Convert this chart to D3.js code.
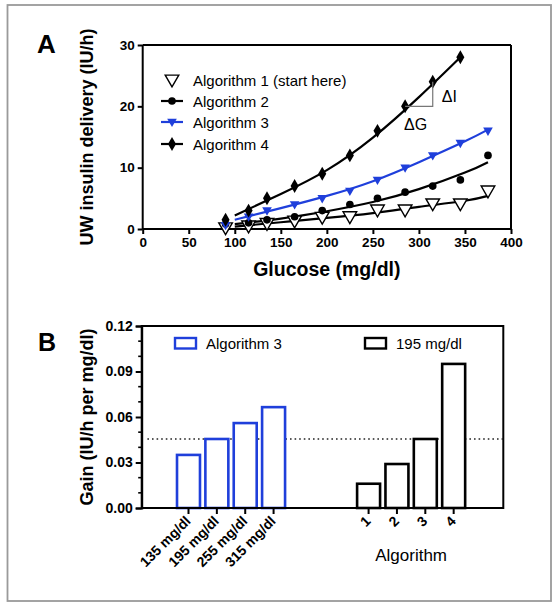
<!DOCTYPE html>
<html><head><meta charset="utf-8">
<script src="https://cdn.jsdelivr.net/npm/d3@7"></script>
<style>html,body{margin:0;padding:0;background:#fff;} svg{display:block;font-family:"Liberation Sans",Arial,sans-serif;}</style>
</head><body>
<svg id="c" width="557" height="607"></svg>
<script>
// ---------- Data: panel A ----------
const glucose = [90,115,135,165,195,225,255,285,315,345,375];
const alg1 = [0.2,0.5,0.9,1.3,1.9,2.0,3.1,3.1,4.1,4.1,6.2];
const alg2 = [0.8,1,1.5,2,3,4,5,6,7,8,12];
const alg3 = [0.6,2,3,4,5,6.2,8,10,12,14,16];
const alg4 = [1.5,3,5,7,9,12,16,20,24,28];
const fitX = [100,150,200,250,300,350,375];
const fit1 = [0.4,1.1,1.8,2.6,3.6,4.6,5.4];
const fit2 = [0.8,1.7,2.9,4.4,6.5,9.2,10.9];
const fit3 = [1.5,3.4,5.4,7.8,10.9,14.3,16.2];
const fit4X = [100,150,200,250,300,345];
const fit4 = [2.2,5.7,9.6,14.9,21.5,28.0];
const legendA = ["Algorithm 1 (start here)","Algorithm 2","Algorithm 3","Algorithm 4"];
const xTicksA = [0,50,100,150,200,250,300,350,400];
const yTicksA = [0,10,20,30];
// ---------- Data: panel B ----------
const glucoseCats = ["135 mg/dl","195 mg/dl","255 mg/dl","315 mg/dl"];
const gainAlg3 = [0.035,0.0455,0.056,0.0665];
const algCats = ["1","2","3","4"];
const gain195 = [0.016,0.029,0.0455,0.095];
const refGain = 0.0455;
const yTicksB = [0,0.03,0.06,0.09,0.12];

const BLUE = "#1f3fdb";
const svg = d3.select("#c");
svg.append("rect").attr("x",7.5).attr("y",5).attr("width",543.5).attr("height",596)
  .attr("fill","#fff").attr("stroke","#9a9a9a").attr("stroke-width",1.8);

// ================= Panel A =================
const xA = d3.scaleLinear().domain([0,400]).range([142.7,511]);
const yA = d3.scaleLinear().domain([0,30]).range([229,45]);
const gA = svg.append("g");
gA.append("text").attr("x",37).attr("y",53).attr("font-size",26).attr("font-weight","bold").text("A");

gA.append("line").attr("x1",xA(0)).attr("x2",xA(400)).attr("y1",yA(30)).attr("y2",yA(30)).attr("stroke","#000").attr("stroke-width",2);
gA.append("line").attr("x1",xA(400)).attr("x2",xA(400)).attr("y1",yA(30)).attr("y2",yA(0)).attr("stroke","#000").attr("stroke-width",2);

const axXA = gA.append("g").attr("transform",`translate(0,${yA(0)})`)
  .call(d3.axisBottom(xA).tickValues(xTicksA).tickSize(5).tickPadding(3));
const axYA = gA.append("g").attr("transform",`translate(${xA(0)},0)`)
  .call(d3.axisLeft(yA).tickValues(yTicksA).tickSize(5).tickPadding(3));
[axXA,axYA].forEach(a=>{
  a.selectAll("path").attr("stroke","#000").attr("stroke-width",2);
  a.selectAll("line").attr("stroke","#000").attr("stroke-width",2);
  a.selectAll("text").attr("font-size",13.5).attr("font-weight","bold").attr("fill","#000").attr("font-family","Liberation Sans, Arial, sans-serif");
});
axXA.selectAll("path").attr("d",`M${xA(0)},0H${xA(400)}`);
axYA.selectAll("path").attr("d",`M0,${yA(0)}V${yA(30)}`);

gA.append("text").attr("x",(xA(0)+xA(400))/2).attr("y",276).attr("text-anchor","middle")
  .attr("font-size",19.5).attr("font-weight","bold").text("Glucose (mg/dl)");
gA.append("text").attr("transform",`translate(93,${(yA(0)+yA(30))/2}) rotate(-90)`).attr("text-anchor","middle")
  .attr("font-size",18).attr("font-weight","bold").text("UW insulin delivery (IU/h)");

const line = d3.line().x(d=>xA(d[0])).y(d=>yA(d[1])).curve(d3.curveNatural);
const fits = [
  {x:fitX,y:fit1,c:"#000"},{x:fitX,y:fit2,c:"#000"},{x:fitX,y:fit3,c:BLUE},{x:fit4X,y:fit4,c:"#000"}
];
fits.forEach(f=>{
  gA.append("path").attr("d",line(f.x.map((v,i)=>[v,f.y[i]]))).attr("fill","none").attr("stroke",f.c).attr("stroke-width",2.2);
});

const sym = {
  a1: d3.symbol().type(d3.symbolTriangle).size(80),
  a2: d3.symbol().type(d3.symbolCircle).size(46),
  a3: d3.symbol().type(d3.symbolTriangle).size(40),
  a4: d3.symbol().type(d3.symbolDiamond).size(56)
};
function drawMarker(g,key,x,y){
  const p = g.append("path").attr("d",sym[key]());
  if(key==="a1"){p.attr("transform",`translate(${x},${y-1}) rotate(180)`).attr("fill","#fff").attr("stroke","#000").attr("stroke-width",1.4);}
  else if(key==="a3"){p.attr("transform",`translate(${x},${y-0.5}) rotate(180)`).attr("fill",BLUE);}
  else {p.attr("transform",`translate(${x},${y})`).attr("fill","#000");}
}
const series = [{k:"a1",v:alg1},{k:"a2",v:alg2},{k:"a3",v:alg3},{k:"a4",v:alg4}];
series.forEach(s=>{ s.v.forEach((v,i)=>drawMarker(gA,s.k,xA(glucose[i]),yA(v))); });

gA.append("path").attr("d",`M${xA(glucose[7])},${yA(alg4[7])}H${xA(glucose[8])}V${yA(alg4[8])}`)
  .attr("fill","none").attr("stroke","#777").attr("stroke-width",1.2);
gA.append("text").attr("x",xA(glucose[8])+9).attr("y",102).attr("font-size",16).text("ΔI");
gA.append("text").attr("x",xA(glucose[7])-1).attr("y",130).attr("font-size",16).text("ΔG");

const legY = [80,101,122,144];
legendA.forEach((t,i)=>{
  const k = ["a1","a2","a3","a4"][i];
  if(i>0) gA.append("line").attr("x1",161).attr("x2",183).attr("y1",legY[i]).attr("y2",legY[i])
    .attr("stroke",i===2?BLUE:"#000").attr("stroke-width",2.2);
  drawMarker(gA,k,172,legY[i]);
  gA.append("text").attr("x",193).attr("y",legY[i]+5.5).attr("font-size",15).text(t);
});

// ================= Panel B =================
const yB = d3.scaleLinear().domain([0,0.12]).range([508,326]);
const xB = d3.scaleLinear().domain([0,12.75]).range([141.7,503.3]);
const group1Start = 1.65, group2Start = 8.0, barW = 0.81;
const gB = svg.append("g");
gB.append("text").attr("x",38).attr("y",351).attr("font-size",25).attr("font-weight","bold").text("B");

gB.append("rect").attr("x",xB(0)).attr("y",yB(0.12)).attr("width",xB(12.75)-xB(0)).attr("height",yB(0)-yB(0.12))
  .attr("fill","none").attr("stroke","#000").attr("stroke-width",2);

const minorB = d3.range(0,13).map(i=>i*0.01).filter(v=>!yTicksB.some(t=>Math.abs(t-v)<1e-9));
gB.selectAll(".mn").data(minorB).join("line").attr("x1",xB(0)-3.5).attr("x2",xB(0)).attr("y1",d=>yB(d)).attr("y2",d=>yB(d))
  .attr("stroke","#000").attr("stroke-width",1.6);
const axYB = gB.append("g").attr("transform",`translate(${xB(0)},0)`)
  .call(d3.axisLeft(yB).tickValues(yTicksB).tickFormat(d3.format(".2f")).tickSize(6).tickPadding(3));
axYB.selectAll("path").attr("stroke","#000").attr("stroke-width",2);
axYB.selectAll("line").attr("stroke","#000").attr("stroke-width",2);
axYB.selectAll("text").attr("font-size",14).attr("font-weight","bold").attr("fill","#000").attr("font-family","Liberation Sans, Arial, sans-serif");

gB.append("text").attr("transform",`translate(93,${(yB(0)+yB(0.12))/2}) rotate(-90)`).attr("text-anchor","middle")
  .attr("font-size",18).attr("font-weight","bold").text("Gain (IU/h per mg/dl)");

gB.append("line").attr("x1",xB(0.2)).attr("x2",xB(12.75)).attr("y1",yB(refGain)).attr("y2",yB(refGain))
  .attr("stroke","#222").attr("stroke-width",1.6).attr("stroke-dasharray","1.6,3");

function bars(cats,vals,start,color){
  cats.forEach((c,i)=>{
    const cx = xB(start+i);
    const w = xB(barW)-xB(0);
    gB.append("rect").attr("x",cx-w/2).attr("y",yB(vals[i])).attr("width",w).attr("height",yB(0)-yB(vals[i]))
      .attr("fill","#fff").attr("stroke",color).attr("stroke-width",2.6);
    gB.append("line").attr("x1",cx).attr("x2",cx).attr("y1",yB(0)).attr("y2",yB(0)+6).attr("stroke","#000").attr("stroke-width",2);
    gB.append("text").attr("transform",`translate(${cx+3},${yB(0)+14}) rotate(-45)`).attr("text-anchor","end")
      .attr("font-size",14).attr("font-weight","bold").text(c);
  });
}
bars(glucoseCats,gainAlg3,group1Start,BLUE);
bars(algCats,gain195,group2Start,"#000");
gB.append("line").attr("x1",xB(0)).attr("x2",xB(12.75)).attr("y1",yB(0)).attr("y2",yB(0)).attr("stroke","#000").attr("stroke-width",2);

gB.append("text").attr("x",(xB(group2Start)+xB(group2Start+3))/2).attr("y",561).attr("text-anchor","middle")
  .attr("font-size",17).text("Algorithm");

gB.append("rect").attr("x",175).attr("y",338).attr("width",21).attr("height",10.5).attr("fill","#fff").attr("stroke",BLUE).attr("stroke-width",2.4);
gB.append("text").attr("x",206).attr("y",348.5).attr("font-size",15).text("Algorithm 3");
gB.append("rect").attr("x",365).attr("y",338).attr("width",21).attr("height",10.5).attr("fill","#fff").attr("stroke","#000").attr("stroke-width",2.4);
gB.append("text").attr("x",396).attr("y",348.5).attr("font-size",15).text("195 mg/dl");
</script>
</body></html>
